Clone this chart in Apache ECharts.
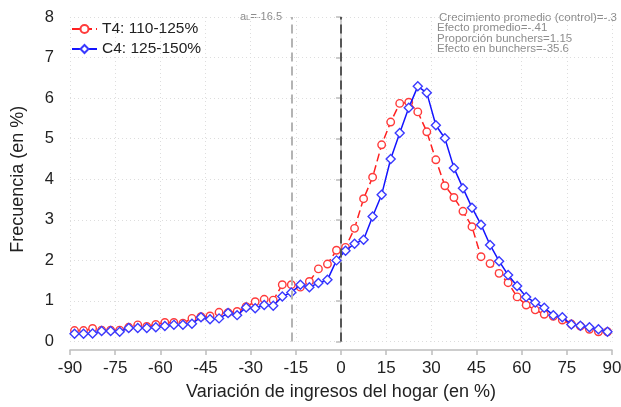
<!DOCTYPE html>
<html>
<head>
<meta charset="utf-8">
<script src="https://cdn.jsdelivr.net/npm/echarts@6/dist/echarts.min.js"></script>
<style>
  html, body { margin: 0; padding: 0; background: #ffffff; }
  #chart { width: 621px; height: 407px; }
</style>
</head>
<body>
<div id="chart"></div>
<script>
// Bin centres of the income-change histogram (3-point bins, in %)
const binCenters = [
  -88.5, -85.5, -82.5, -79.5, -76.5, -73.5, -70.5, -67.5, -64.5, -61.5,
  -58.5, -55.5, -52.5, -49.5, -46.5, -43.5, -40.5, -37.5, -34.5, -31.5,
  -28.5, -25.5, -22.5, -19.5, -16.5, -13.5, -10.5, -7.5, -4.5, -1.5,
  1.5, 4.5, 7.5, 10.5, 13.5, 16.5, 19.5, 22.5, 25.5, 28.5,
  31.5, 34.5, 37.5, 40.5, 43.5, 46.5, 49.5, 52.5, 55.5, 58.5,
  61.5, 64.5, 67.5, 70.5, 73.5, 76.5, 79.5, 82.5, 85.5, 88.5
];

// Frequency (%) for the treated group T4: 110-125%
const t4Values = [
  0.27, 0.27, 0.32, 0.28, 0.28, 0.28, 0.35, 0.41, 0.37, 0.42,
  0.47, 0.47, 0.45, 0.57, 0.61, 0.63, 0.72, 0.71, 0.74, 0.86,
  0.98, 1.04, 1.02, 1.40, 1.40, 1.34, 1.48, 1.79, 1.91, 2.25,
  2.32, 2.79, 3.52, 4.05, 4.85, 5.41, 5.87, 5.90, 5.66, 5.17,
  4.48, 3.84, 3.55, 3.21, 2.83, 2.09, 1.92, 1.68, 1.45, 1.10,
  0.90, 0.78, 0.67, 0.62, 0.53, 0.43, 0.38, 0.30, 0.24, 0.24
];

// Frequency (%) for the control group C4: 125-150%
const c4Values = [
  0.19, 0.19, 0.20, 0.26, 0.26, 0.24, 0.33, 0.33, 0.33, 0.35,
  0.38, 0.41, 0.41, 0.44, 0.60, 0.55, 0.57, 0.70, 0.65, 0.84,
  0.82, 0.90, 0.88, 1.11, 1.21, 1.40, 1.34, 1.44, 1.52, 2.00,
  2.24, 2.41, 2.51, 3.08, 3.62, 4.50, 5.14, 5.76, 6.29, 6.13,
  5.33, 5.01, 4.28, 3.78, 3.30, 2.88, 2.38, 1.98, 1.64, 1.37,
  1.10, 0.96, 0.83, 0.65, 0.60, 0.42, 0.39, 0.35, 0.30, 0.24
];

const seriesNames = ['T4: 110-125%', 'C4: 125-150%'];
const lowerBound = -16.5;     // a_L
const zeroLine = 0;
const statsLines = [
  'Crecimiento promedio (control)=-.3',
  'Efecto promedio=-.41',
  'Proporción bunchers=1.15',
  'Efecto en bunchers=-35.6'
];

const FONT = "'Liberation Sans', Arial, sans-serif";
const toPairs = (xs, ys) => xs.map((x, i) => [x, ys[i]]);

const chart = echarts.init(document.getElementById('chart'), null, { renderer: 'canvas' });

chart.setOption({
  animation: false,
  backgroundColor: '#ffffff',
  textStyle: { fontFamily: FONT },
  grid: { left: 70, right: 9, top: 17, bottom: 65.5, containLabel: false, outerBoundsMode: 'none' },
  legend: {
    left: 66, top: 16, orient: 'vertical',
    itemWidth: 25, itemHeight: 10, itemGap: 4,
    textStyle: { fontFamily: FONT, fontSize: 15.5, color: '#222222' },
    data: seriesNames
  },
  xAxis: {
    type: 'value', min: -90, max: 90, interval: 15, offset: 8.5,
    name: 'Variación de ingresos del hogar (en %)',
    nameLocation: 'middle', nameGap: 33,
    nameTextStyle: { fontFamily: FONT, fontSize: 18, color: '#222222' },
    axisLine: { show: true, onZero: false, lineStyle: { color: '#bdbdbd', width: 1.5 } },
    axisTick: { show: true, length: 5, lineStyle: { color: '#bdbdbd', width: 1.5 } },
    axisLabel: { fontFamily: FONT, fontSize: 17, color: '#222222', margin: 10 },
    splitLine: { show: true, lineStyle: { color: '#dddddd', width: 1, type: [1, 3] } }
  },
  yAxis: {
    type: 'value', min: 0, max: 8, interval: 1, offset: 12,
    name: 'Frecuencia (en %)',
    nameLocation: 'middle', nameGap: 31, nameRotate: 90,
    nameTextStyle: { fontFamily: FONT, fontSize: 18, color: '#222222' },
    axisLine: { show: true, lineStyle: { color: '#bdbdbd', width: 1.5 } },
    axisTick: { show: true, length: 5, lineStyle: { color: '#bdbdbd', width: 1.5 } },
    axisLabel: { fontFamily: FONT, fontSize: 16.5, color: '#222222', margin: 4 },
    splitLine: { show: true, lineStyle: { color: '#dddddd', width: 1, type: [1, 3] } }
  },
  series: [
    {
      // reference lines at a_L and at zero change
      type: 'line', data: [], silent: true, z: 1,
      markLine: {
        silent: true, symbol: 'none', animation: false,
        label: { show: false },
        data: [
          { xAxis: lowerBound, lineStyle: { color: '#b4b4b4', width: 2, type: [9, 5] } },
          { xAxis: zeroLine, lineStyle: { color: '#555555', width: 2, type: [9, 5] } }
        ]
      }
    },
    {
      name: seriesNames[0], type: 'line', z: 3,
      data: toPairs(binCenters, t4Values),
      showAllSymbol: true, symbol: 'circle', symbolSize: 7.5,
      itemStyle: { color: '#ffffff', borderColor: '#ff3b3b', borderWidth: 1.4 },
      lineStyle: { color: '#ff2020', width: 1.5, type: [8, 4] }
    },
    {
      name: seriesNames[1], type: 'line', z: 4,
      data: toPairs(binCenters, c4Values),
      showAllSymbol: true, symbol: 'diamond', symbolSize: 9,
      itemStyle: { color: '#ffffff', borderColor: '#3a3aff', borderWidth: 1.4 },
      lineStyle: { color: '#1414ff', width: 1.5, type: 'solid' }
    }
  ],
  graphic: [
    {
      type: 'text', right: 339, top: 11,
      style: {
        text: '{a|a}{s|L}{a|=-16.5}',
        rich: {
          a: { fontFamily: FONT, fontSize: 11, fill: '#8c8c8c' },
          s: { fontFamily: FONT, fontSize: 8, fill: '#8c8c8c', padding: [3, 0, 0, 0] }
        }
      }
    },
    { type: 'text', left: 439, top: 11.5, style: { text: statsLines[0], font: '11.5px ' + FONT, fill: '#8c8c8c' } },
    { type: 'text', left: 437, top: 22, style: { text: statsLines[1], font: '11.5px ' + FONT, fill: '#8c8c8c' } },
    { type: 'text', left: 437, top: 32.5, style: { text: statsLines[2], font: '11.5px ' + FONT, fill: '#8c8c8c' } },
    { type: 'text', left: 437, top: 43, style: { text: statsLines[3], font: '11.5px ' + FONT, fill: '#8c8c8c' } }
  ]
});
</script>
</body>
</html>
